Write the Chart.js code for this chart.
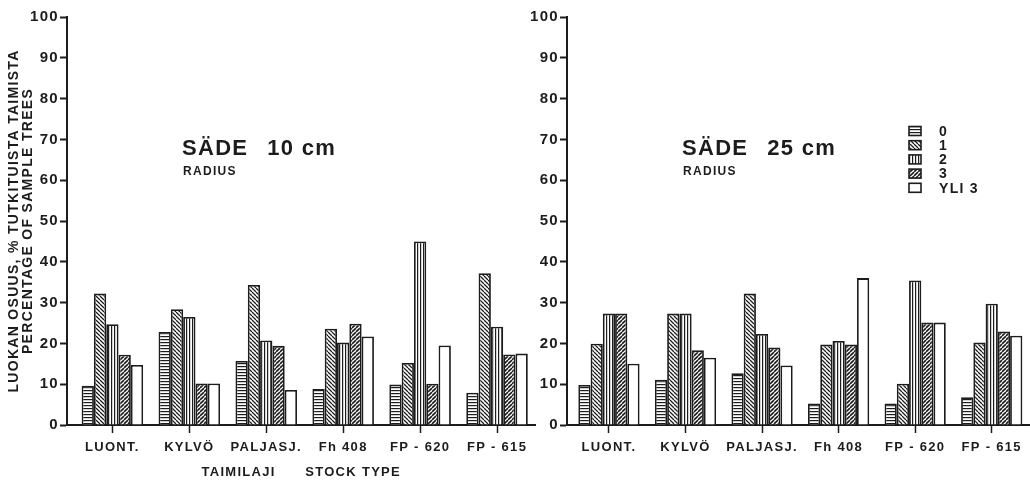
<!DOCTYPE html>
<html>
<head>
<meta charset="utf-8">
<script src="https://cdn.jsdelivr.net/npm/chart.js@4.4.1/dist/chart.umd.min.js"></script>
<style>
    html, body { margin: 0; padding: 0; background: #fff; }
    #wrap { position: relative; width: 1030px; height: 482px; overflow: hidden; }
    canvas { position: absolute; top: 0; }
    #chart-10 { left: 0; }
    #chart-25 { left: 510px; }
</style>
</head>
<body>
<div id="wrap">
    <canvas id="chart-10" width="545" height="482"></canvas>
    <canvas id="chart-25" width="520" height="482"></canvas>
</div>
<script>
const stockTypes = ['LUONT.', 'KYLVÖ', 'PALJASJ.', 'Fh 408', 'FP - 620', 'FP - 615'];
const classNames = ['0', '1', '2', '3', 'YLI 3'];
const radiusLabels = ['10 cm', '25 cm'];
const yTitleLines = ['LUOKAN OSUUS, % TUTKITUISTA TAIMISTA', 'PERCENTAGE OF SAMPLE TREES'];
const xTitleText = 'TAIMILAJI      STOCK TYPE';

// share of sample trees (%) per class, radius 10 cm
const r10Class0 = [9.6, 22.8, 15.7, 8.8, 9.9, 7.9];
const r10Class1 = [32.2, 28.4, 34.3, 23.6, 15.2, 37.2];
const r10Class2 = [24.7, 26.5, 20.7, 20.2, 45.0, 24.1];
const r10Class3 = [17.2, 10.2, 19.4, 24.8, 10.1, 17.3];
const r10Over3 = [14.7, 10.2, 8.6, 21.7, 19.5, 17.5];

// share of sample trees (%) per class, radius 25 cm
const r25Class0 = [9.8, 11.1, 12.7, 5.3, 5.3, 6.8];
const r25Class1 = [19.9, 27.3, 32.2, 19.7, 10.1, 20.2];
const r25Class2 = [27.3, 27.3, 22.3, 20.6, 35.4, 29.7];
const r25Class3 = [27.3, 18.3, 19.0, 19.7, 25.1, 22.9];
const r25Over3 = [15.0, 16.5, 14.6, 36.0, 25.1, 21.9];

const ink = '#1c1c1c';
const fontFamily = '"Liberation Sans", Arial, Helvetica, sans-serif';
const hatchKinds = ['h', 'b', 'v', 'f', null];

function makeHatch(kind) {
    const size = (kind === 'h' || kind === 'v') ? 3 : 4;
    const tile = document.createElement('canvas');
    tile.width = size;
    tile.height = size;
    const g = tile.getContext('2d');

    g.fillStyle = '#fff';
    g.fillRect(0, 0, size, size);
    g.fillStyle = ink;
    g.strokeStyle = ink;

    if (kind === 'h') {
        g.fillRect(0, 0, size, 1.2);
    } else if (kind === 'v') {
        g.fillRect(0, 0, 1.2, size);
    } else {
        g.lineWidth = kind === 'f' ? 1.6 : 1.25;
        [-size, 0, size].forEach((o) => {
            g.beginPath();
            if (kind === 'b') {
                g.moveTo(o, 0);
                g.lineTo(o + size, size);
            } else {
                g.moveTo(o, size);
                g.lineTo(o + size, 0);
            }
            g.stroke();
        });
    }

    return g.createPattern(tile, 'repeat');
}

const hatches = hatchKinds.map((k) => (k ? makeHatch(k) : '#fff'));

function buildDatasets(series) {
    return series.map((values, i) => ({
        label: classNames[i],
        data: values.map((v, x) => ({x, y: v})),
        backgroundColor: hatches[i],
        borderColor: ink,
        borderWidth: 1.8,
        borderSkipped: 'bottom',
        categoryPercentage: 0.8,
        barPercentage: 1,
    }));
}

// letter spacing of the lettering on the drawing
const spacedText = {
    id: 'spacedText',
    beforeLayout(chart) {
        chart.ctx.letterSpacing = '1.3px';
    },
    beforeDraw(chart) {
        chart.ctx.letterSpacing = '1.3px';
    },
};

// "SÄDE 10 cm / RADIUS" heading inside the plot
const radiusNote = {
    id: 'radiusNote',
    afterDraw(chart, args, opts) {
        const {ctx, chartArea} = chart;
        const x = chartArea.left + opts.dx;

        ctx.save();
        ctx.fillStyle = ink;
        ctx.textAlign = 'left';
        ctx.textBaseline = 'alphabetic';
        ctx.letterSpacing = '1.3px';
        ctx.font = 'bold 22px ' + fontFamily;
        ctx.fillText('SÄDE', x, opts.y);
        const w = ctx.measureText('SÄDE').width;
        ctx.fillText(opts.radius, x + w + 19, opts.y);
        ctx.font = 'bold 12px ' + fontFamily;
        ctx.fillText('RADIUS', x + 1, opts.y + 20);
        ctx.restore();
    },
};

// class key with hatch swatches
const classKey = {
    id: 'classKey',
    afterDraw(chart, args, opts) {
        if (!opts.show) {
            return;
        }

        const {ctx, chartArea} = chart;
        const x = chartArea.left + opts.dx;

        ctx.save();
        ctx.letterSpacing = '1.3px';
        ctx.font = 'bold 14px ' + fontFamily;
        ctx.textBaseline = 'middle';
        ctx.textAlign = 'left';

        chart.data.datasets.forEach((ds, i) => {
            const y = opts.y + i * 14.2;
            ctx.fillStyle = ds.backgroundColor;
            ctx.fillRect(x, y - 4.5, 12, 9);
            ctx.strokeStyle = ink;
            ctx.lineWidth = 1.6;
            ctx.strokeRect(x, y - 4.5, 12, 9);
            ctx.fillStyle = ink;
            ctx.fillText(ds.label, x + 30, y + 1);
        });

        ctx.restore();
    },
};

function buildOptions(cfg) {
    return {
        responsive: false,
        animation: false,
        layout: {
            padding: {top: 17, right: cfg.padRight, left: 0, bottom: 0},
        },
        plugins: {
            legend: {display: false},
            tooltip: {enabled: false},
            radiusNote: {dx: 115, y: 155, radius: cfg.radius},
            classKey: {show: cfg.showKey, dx: 342, y: 131},
        },
        scales: {
            x: {
                type: 'linear',
                offset: false,
                min: cfg.xMin,
                max: 5.5,
                // one tick per stock type, at the group centre
                afterBuildTicks(scale) {
                    scale.ticks = stockTypes.map((name, i) => ({value: i}));
                },
                afterFit(scale) {
                    scale.height = 57;
                },
                ticks: {
                    autoSkip: false,
                    maxRotation: 0,
                    padding: 7,
                    color: ink,
                    font: {family: fontFamily, size: 13, weight: 'bold'},
                    callback: (v) => stockTypes[v],
                },
                grid: {
                    offset: false,
                    drawOnChartArea: false,
                    drawTicks: true,
                    tickLength: 8,
                    tickWidth: 1.5,
                    tickColor: ink,
                },
                border: {display: true, color: ink, width: 2},
                title: {
                    display: cfg.showXTitle,
                    text: xTitleText,
                    color: ink,
                    font: {family: fontFamily, size: 13, weight: 'bold', lineHeight: 1.15},
                    padding: {top: 0, bottom: 2},
                },
            },
            y: {
                min: 0,
                max: 100,
                afterFit(scale) {
                    scale.width = cfg.yWidth;
                },
                ticks: {
                    stepSize: 10,
                    padding: 1,
                    color: ink,
                    font: {family: fontFamily, size: 15, weight: 'bold'},
                },
                grid: {
                    drawOnChartArea: false,
                    drawTicks: true,
                    tickLength: 7,
                    tickWidth: 2,
                    tickColor: ink,
                },
                border: {display: true, color: ink, width: 2},
                title: {
                    display: cfg.showYTitle,
                    text: yTitleLines,
                    color: ink,
                    font: {family: fontFamily, size: 14, weight: 'bold', lineHeight: 1.0},
                    padding: {top: 7, bottom: 0},
                },
            },
        },
    };
}

new Chart(document.getElementById('chart-10'), {
    type: 'bar',
    data: {
        datasets: buildDatasets([r10Class0, r10Class1, r10Class2, r10Class3, r10Over3]),
    },
    options: buildOptions({
        xMin: -0.59,
        yWidth: 67,
        padRight: 9.5,
        radius: radiusLabels[0],
        showKey: false,
        showXTitle: true,
        showYTitle: true,
    }),
    plugins: [spacedText, radiusNote, classKey],
});

new Chart(document.getElementById('chart-25'), {
    type: 'bar',
    data: {
        datasets: buildDatasets([r25Class0, r25Class1, r25Class2, r25Class3, r25Over3]),
    },
    options: buildOptions({
        xMin: -0.548,
        yWidth: 57,
        padRight: 0,
        radius: radiusLabels[1],
        showKey: true,
        showXTitle: false,
        showYTitle: false,
    }),
    plugins: [spacedText, radiusNote, classKey],
});
</script>
</body>
</html>
